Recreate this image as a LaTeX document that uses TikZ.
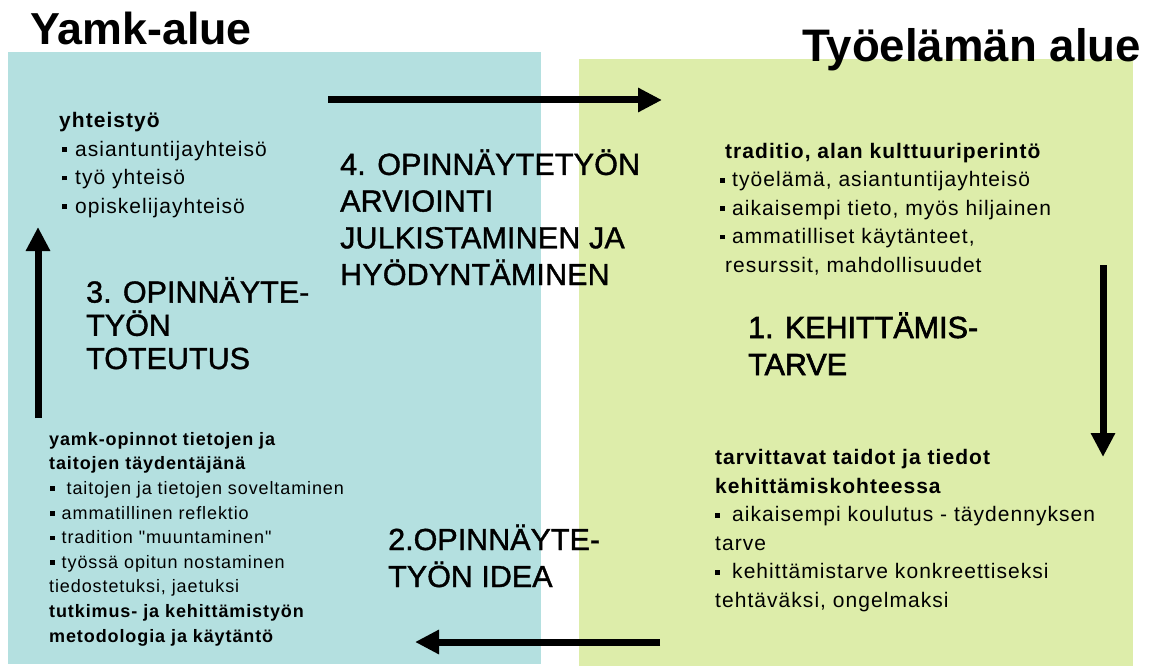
\documentclass[tikz,border=0pt]{standalone}
\usepackage{fontspec}
\setmainfont{Liberation Sans}[Ligatures=TeXOff]
\usetikzlibrary{arrows.meta}
\definecolor{yamkblue}{RGB}{180,224,224}
\definecolor{tyogreen}{RGB}{221,237,170}
\newcommand{\sqb}{\rule[4pt]{5pt}{5pt}}
\newcommand{\sqs}{\rule[3.5pt]{4.5pt}{4.5pt}}
\begin{document}
\begin{tikzpicture}[x=1pt,y=-1pt,
  title/.style={font=\fontsize{44.8}{50}\selectfont\bfseries, anchor=base west, inner sep=0pt},
  stage/.style={font=\addfontfeature{FakeBold=1.2}\fontsize{30.5}{36.7}\selectfont, align=left, anchor=base west, inner sep=0pt},
  smalltxt/.style={font=\addfontfeature{LetterSpace=5}\fontsize{21}{28.5}\selectfont, align=left, anchor=base west, inner sep=0pt},
  tinytxt/.style={font=\addfontfeature{LetterSpace=5}\fontsize{18}{24.6}\selectfont, align=left, anchor=base west, inner sep=0pt},
  flow/.style={line width=7pt, -{Triangle[length=24pt,width=23pt]}}]
\useasboundingbox (0,0) rectangle (1152,666);
% areas
\fill[yamkblue] (8,52) rectangle (541,664);
\fill[tyogreen] (579,59) rectangle (1133,666);
% titles
\node[title] (t1) at (30,45) {Yamk-alue};
\node[title, font=\fontsize{45.6}{50}\selectfont\bfseries] (t2) at (802,62) {Työelämän alue};
% stage labels (anchor = baseline of the last line)
\node[stage, font=\addfontfeature{FakeBold=1.2,LetterSpace=0.5}\fontsize{30.5}{36.7}\selectfont] (s4) at (340,285) {4. OPINNÄYTETYÖN\\ARVIOINTI\\JULKISTAMINEN JA\\HYÖDYNTÄMINEN};
\node[stage, font=\addfontfeature{FakeBold=1.2}\fontsize{30.5}{33.2}\selectfont] (s3) at (86,369) {3. OPINNÄYTE-\\TYÖN\\TOTEUTUS};
\node[stage, font=\addfontfeature{FakeBold=2}\fontsize{30.5}{37}\selectfont] (s1) at (748,375) {1. KEHITTÄMIS-\\TARVE};
\node[stage, font=\addfontfeature{FakeBold=1.2}\fontsize{30.5}{37}\selectfont] (s2) at (388,587) {2.OPINNÄYTE-\\TYÖN IDEA};
% info blocks
\node[smalltxt] (b1) at (59,213) {\textbf{yhteistyö}\\\hspace*{3pt}\sqb\hspace{8pt}asiantuntijayhteisö\\\hspace*{3pt}\sqb\hspace{8pt}työ yhteisö\\\hspace*{3pt}\sqb\hspace{8pt}opiskelijayhteisö};
\node[smalltxt] (b2) at (725,272) {\textbf{traditio, alan kulttuuriperintö}\\\hspace*{-5pt}\sqb\hspace{7pt}työelämä, asiantuntijayhteisö\\\hspace*{-5pt}\sqb\hspace{7pt}aikaisempi tieto, myös hiljainen\\\hspace*{-5pt}\sqb\hspace{7pt}ammatilliset käytänteet,\\resurssit, mahdollisuudet};
\node[smalltxt] (b3) at (715,607) {\textbf{tarvittavat taidot ja tiedot}\\\textbf{kehittämiskohteessa}\\\sqb\hspace{12pt}aikaisempi koulutus - täydennyksen\\tarve\\\sqb\hspace{12pt}kehittämistarve konkreettiseksi\\tehtäväksi, ongelmaksi};
\node[tinytxt] (b4) at (49,642) {\textbf{yamk-opinnot tietojen ja}\\\textbf{taitojen täydentäjänä}\\\hspace*{1pt}\sqs\hspace{12pt}taitojen ja tietojen soveltaminen\\\hspace*{1pt}\sqs\hspace{7pt}ammatillinen reflektio\\\hspace*{1pt}\sqs\hspace{7pt}tradition "muuntaminen"\\\hspace*{1pt}\sqs\hspace{7pt}työssä opitun nostaminen\\tiedostetuksi, jaetuksi\\\textbf{tutkimus- ja kehittämistyön}\\\textbf{metodologia ja käytäntö}};
% flow arrows
\coordinate (a4s) at (328,100);
\coordinate (a4e) at (662,100);
\coordinate (a1s) at (1103,265);
\coordinate (a1e) at (1103,457);
\coordinate (a2s) at (660,642);
\coordinate (a2e) at (415,642);
\coordinate (a3s) at (38,418);
\coordinate (a3e) at (38,227);
\draw[flow] (a4s) -- (a4e);
\draw[flow] (a1s) -- (a1e);
\draw[flow] (a2s) -- (a2e);
\draw[flow] (a3s) -- (a3e);
\end{tikzpicture}
\end{document}
